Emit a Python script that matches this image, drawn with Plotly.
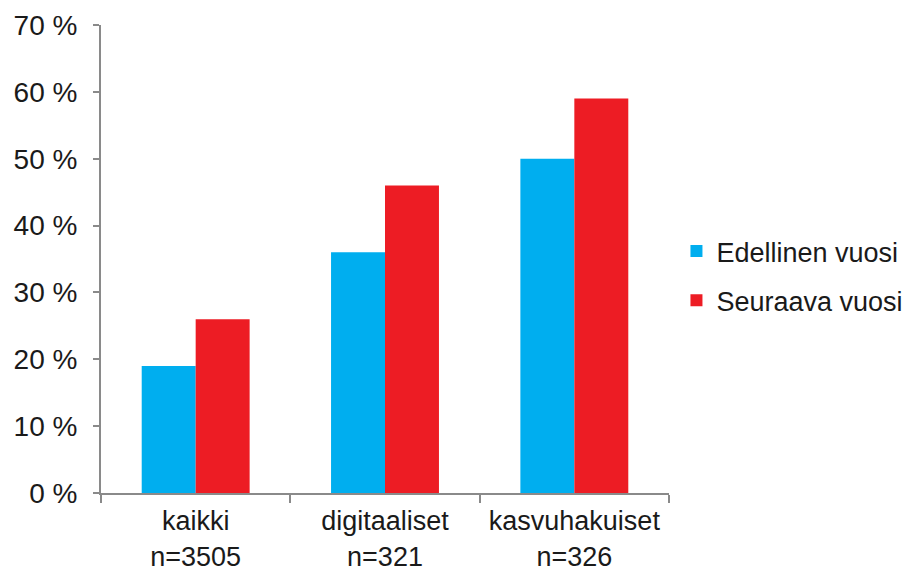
import plotly.graph_objects as go

categories = ["kaikki<br>n=3505", "digitaaliset<br>n=321", "kasvuhakuiset<br>n=326"]
edellinen = [19, 36, 50]
seuraava = [26, 46, 59]
series_names = ["Edellinen vuosi", "Seuraava vuosi"]
y_tickvals = [0, 10, 20, 30, 40, 50, 60, 70]
y_ticktext = ["0 %", "10 %", "20 %", "30 %", "40 %", "50 %", "60 %", "70 %"]

FONT = "Liberation Sans, Helvetica, Arial, sans-serif"
AXIS_COLOR = "#8a8a8a"
FS = 28

fig = go.Figure()
fig.add_trace(go.Bar(x=categories, y=edellinen, name=series_names[0],
                     marker=dict(color="#00AEEF", line=dict(width=0)),
                     legendgroup="a"))
fig.add_trace(go.Bar(x=categories, y=seuraava, name=series_names[1],
                     marker=dict(color="#ED1C24", line=dict(width=0)),
                     legendgroup="b"))

fig.update_layout(
    width=907, height=566,
    margin=dict(l=93, r=246, t=17, b=81),
    paper_bgcolor="white", plot_bgcolor="white",
    barmode="group", bargap=0.43, bargroupgap=0,
    font=dict(family=FONT, size=FS, color="#1a1a1a"),
    legend=dict(xref="container", yref="container",
                x=0.737, xanchor="left", y=0.5265, yanchor="middle",
                traceorder="grouped", tracegroupgap=11,
                font=dict(family=FONT, size=27, color="#1a1a1a"),
                bgcolor="rgba(0,0,0,0)", borderwidth=0),
    showlegend=True,
)
fig.update_xaxes(
    range=[-0.5, 2.5], showline=True, linecolor=AXIS_COLOR, linewidth=2,
    ticks="outside", tickson="boundaries", ticklen=8, tickwidth=2, tickcolor=AXIS_COLOR,
    showgrid=False, zeroline=False, tickfont=dict(size=27, color="#1a1a1a"),
    automargin=False, tickangle=0, ticklabelstandoff=3,
)
fig.update_yaxes(
    range=[0, 70], tickvals=y_tickvals, ticktext=y_ticktext,
    showline=True, linecolor=AXIS_COLOR, linewidth=2,
    ticks="outside", ticklen=6, tickwidth=2, tickcolor=AXIS_COLOR,
    showgrid=False, zeroline=False, tickfont=dict(size=FS, color="#1a1a1a"),
    ticklabelstandoff=10, automargin=False,
)

fig.write_html("out.html")
